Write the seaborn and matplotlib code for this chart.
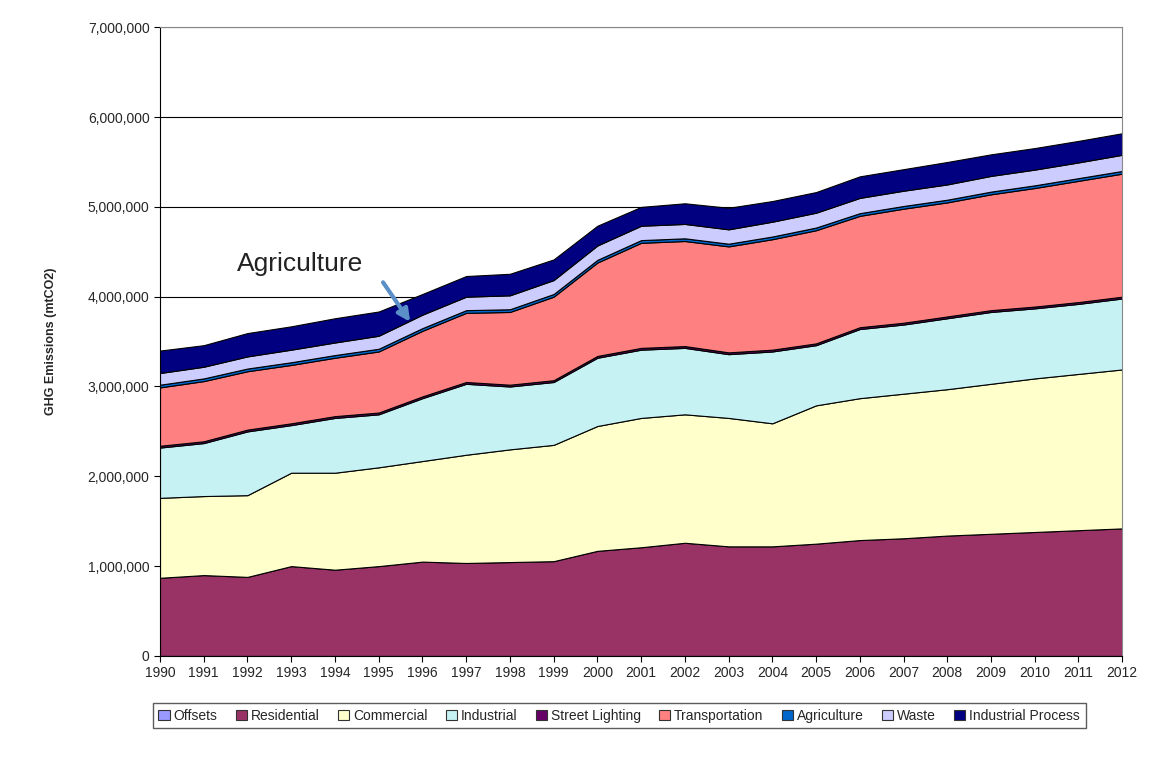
import numpy as np
import matplotlib
matplotlib.use("Agg")
import matplotlib.pyplot as plt
import seaborn as sns
from matplotlib.patches import Patch
from matplotlib.ticker import FuncFormatter

years = list(range(1990, 2013))

# emissions in mtCO2
offsets = [0] * 23
residential = [870000, 900000, 880000, 1000000, 960000, 1000000, 1050000, 1035000, 1045000, 1055000,
               1170000, 1210000, 1260000, 1220000, 1220000, 1250000, 1290000, 1310000, 1340000, 1360000,
               1380000, 1400000, 1420000]
commercial = [890000, 880000, 910000, 1040000, 1080000, 1100000, 1120000, 1205000, 1255000, 1295000,
              1390000, 1440000, 1430000, 1430000, 1370000, 1540000, 1580000, 1610000, 1630000, 1670000,
              1710000, 1740000, 1770000]
industrial = [560000, 590000, 710000, 530000, 610000, 590000, 700000, 790000, 700000, 700000,
              760000, 760000, 740000, 710000, 800000, 670000, 770000, 770000, 790000, 800000,
              780000, 780000, 790000]
street_lighting = [20000] * 23
transportation = [650000, 670000, 650000, 650000, 650000, 680000, 730000, 770000, 810000, 930000,
                  1040000, 1170000, 1170000, 1180000, 1230000, 1260000, 1240000, 1270000, 1270000, 1290000,
                  1320000, 1350000, 1370000]
agriculture = [30000] * 23
waste = [130000, 130000, 135000, 140000, 140000, 145000, 150000, 150000, 155000, 155000,
         160000, 160000, 160000, 160000, 165000, 165000, 170000, 170000, 170000, 175000,
         175000, 175000, 180000]
industrial_process = [250000, 240000, 260000, 260000, 270000, 270000, 230000, 230000, 240000, 230000,
                      220000, 210000, 230000, 240000, 230000, 230000, 240000, 240000, 250000, 240000,
                      240000, 240000, 240000]

labels = ["Offsets", "Residential", "Commercial", "Industrial", "Street Lighting",
          "Transportation", "Agriculture", "Waste", "Industrial Process"]
colors = ["#9999FF", "#993366", "#FFFFCC", "#C6F2F4", "#660066",
          "#FF8080", "#0066CC", "#CCCCFF", "#000080"]

sns.set_style("white")
plt.rcParams["font.family"] = ["Liberation Sans", "DejaVu Sans"]

fig = plt.figure(figsize=(11.51, 7.79), dpi=100)
ax = fig.add_axes([0.139, 0.158, 0.836, 0.807])

ax.stackplot(years, offsets, residential, commercial, industrial, street_lighting,
             transportation, agriculture, waste, industrial_process,
             colors=colors, edgecolor="black", linewidth=0.8, zorder=2)

ax.set_xlim(1990, 2012)
ax.set_ylim(0, 7000000)
ax.set_xticks(years)
ax.set_yticks(np.arange(0, 7000001, 1000000))
ax.yaxis.set_major_formatter(FuncFormatter(lambda v, p: f"{int(v):,}"))
ax.tick_params(axis="both", labelsize=10, direction="out", length=4, width=0.8,
               bottom=True, left=True, color="black")
ax.grid(axis="y", color="black", linewidth=0.8, zorder=0)
ax.set_axisbelow(True)

for s in ["top", "right"]:
    ax.spines[s].set_color("#888888")
for s in ["left", "bottom"]:
    ax.spines[s].set_color("black")

ax.set_ylabel("GHG Emissions (mtCO2)", fontsize=9, fontweight="bold", labelpad=22)

# callout for the thin agriculture band
ax.text(1991.75, 4290000, "Agriculture", fontsize=19, color="#222222")
ax.annotate("", xy=(1995.72, 3720000), xytext=(1995.1, 4160000),
            arrowprops=dict(arrowstyle="-|>", color="#5B8FC7", lw=3, mutation_scale=18,
                            shrinkA=0, shrinkB=0))

handles = [Patch(facecolor=c, edgecolor="#333333", linewidth=0.8) for c in colors]
leg = fig.legend(handles, labels, loc="center", bbox_to_anchor=(0.538, 0.081), ncol=9,
                 fontsize=10, frameon=True, fancybox=False, edgecolor="#333333",
                 handlelength=0.8, handleheight=0.8, handletextpad=0.3, columnspacing=1.3,
                 borderpad=0.4)
leg.get_frame().set_linewidth(1)

fig.savefig("out.png", dpi=100)
